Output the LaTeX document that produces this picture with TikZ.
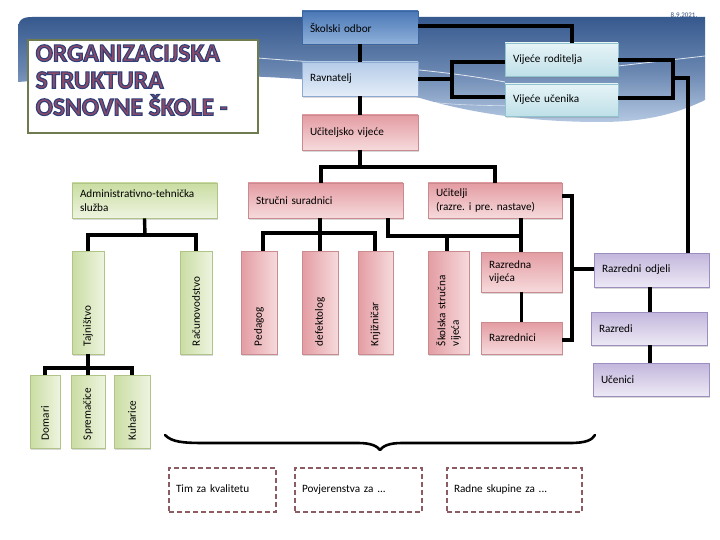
\documentclass[tikz,border=0pt]{standalone}
\usepackage{fontspec}
\setmainfont{Carlito}
\usetikzlibrary{shadows}
\frenchspacing
\definecolor{bannerTop}{HTML}{36598E}
\definecolor{bannerBot}{HTML}{B4C8E2}
\definecolor{odborTop}{HTML}{4A78B6}
\definecolor{odborBot}{HTML}{8FB0DA}
\definecolor{odborLine}{HTML}{3A65A0}
\definecolor{ravTop}{HTML}{B4CBE8}
\definecolor{ravBot}{HTML}{E4EDF8}
\definecolor{ravLine}{HTML}{8EAAD0}
\definecolor{vijTop}{HTML}{E6F4F7}
\definecolor{vijBot}{HTML}{BFE0E8}
\definecolor{vijLine}{HTML}{8FC3CF}
\definecolor{pinkA}{HTML}{E39CA2}
\definecolor{pinkB}{HTML}{F6DADC}
\definecolor{pinkLine}{HTML}{C98B90}
\definecolor{greenA}{HTML}{CADDA2}
\definecolor{greenB}{HTML}{EEF4E0}
\definecolor{greenLine}{HTML}{AFC486}
\definecolor{purpA}{HTML}{C2B6DC}
\definecolor{purpB}{HTML}{EDE9F5}
\definecolor{purpLine}{HTML}{9C8EBF}
\definecolor{titleLine}{HTML}{6E7B4F}
\definecolor{titleFill}{HTML}{8E4A67}
\definecolor{dashCol}{HTML}{8C5C62}
\definecolor{dateCol}{HTML}{2F4A7C}
\newcommand{\outlinedtext}[1]{\special{pdf:literal 2 Tr 1.1 w 0.18 0.25 0.48 RG}#1\special{pdf:literal 0 Tr}}
\begin{document}
\begin{tikzpicture}[x=1pt,y=-1pt,
  box/.style={draw, line width=0.6pt, inner xsep=8pt, inner ysep=0pt,
    align=left, font=\fontsize{11.2}{13.5}\selectfont,
    drop shadow={shadow xshift=1.2pt, shadow yshift=-1.6pt, opacity=0.3}},
  odbor/.style={box, draw=odborLine, top color=odborTop, bottom color=odborBot},
  rav/.style={box, draw=ravLine, top color=ravTop, bottom color=ravBot},
  vij/.style={box, draw=vijLine, top color=vijTop, bottom color=vijBot},
  pinkbox/.style={box, draw=pinkLine, top color=pinkA, bottom color=pinkB},
  greenbox/.style={box, draw=greenLine, top color=greenA, bottom color=greenB},
  purpbox/.style={box, draw=purpLine, top color=purpA, bottom color=purpB},
  vpink/.style={box, draw=pinkLine, left color=pinkA, right color=pinkB, rotate=90},
  vgreen/.style={box, draw=greenLine, left color=greenA, right color=greenB, rotate=90},
  dbox/.style={draw=dashCol, dashed, dash pattern=on 5pt off 3pt, line width=2pt,
    fill=white, inner xsep=7pt, inner ysep=0pt, align=left,
    text height=8pt, text depth=2.5pt,
    font=\fontsize{11.2}{13.5}\selectfont},
  conn/.style={draw=black, line width=3.4pt},
  titlefont/.style={font=\fontsize{25.5}{27}\selectfont\bfseries, align=left, inner sep=0pt, anchor=north west}
]
\useasboundingbox (0,0) rectangle (720,540);
\fill[white] (0,0) rectangle (720,540);
% banner
\shade[top color=bannerTop, bottom color=bannerBot, middle color=bannerTop!60!bannerBot]
  (18,30) .. controls (18,20) and (22,17) .. (32,17) -- (705,17) -- (705,100)
  .. controls (680,112) and (650,122) .. (600,122)
  .. controls (520,122) and (460,110) .. (420,98)
  .. controls (320,70) and (150,72) .. (18,82) -- cycle;
\draw[white, line width=0.8pt, opacity=0.8] (258,58) .. controls (330,64) and (420,66) .. (505,82);
\draw[white, line width=0.8pt, opacity=0.8] (618,66) -- (705,56);
\draw[white, line width=0.6pt, opacity=0.6] (418,100) .. controls (460,108) and (520,104) .. (560,108);
\node[font=\fontsize{7}{8}\selectfont, text=dateCol, inner sep=0pt] (date) at (684,15) {8.9.2021.};

% title
\node[draw=titleLine, line width=2.5pt, fill=white, minimum width=230, minimum height=93, inner sep=0pt] (tbox) at (143,86.5) {};
\node[titlefont, text=titleFill] (title) at (35.5,44.5) {\outlinedtext{ORGANIZACIJSKA}\\\outlinedtext{STRUKTURA}\\\outlinedtext{OSNOVNE ŠKOLE -}};

% top boxes
\node[odbor, minimum height=33, text width=100] (odbor) at (360,27.5) {Školski odbor};
\node[rav, minimum height=34, text width=100] (rav) at (360,79) {Ravnatelj};
\node[pinkbox, minimum height=35, text width=100] (uv) at (360,132.5) {Učiteljsko vijeće};
\node[vij, minimum height=33, text width=97] (vr) at (561.5,59.5) {Vijeće roditelja};
\node[vij, minimum height=32, text width=97] (vu) at (561.5,100) {Vijeće učenika};

% second level
\node[greenbox, minimum height=35, text width=129] (adm) at (144.5,200.5) {Administrativno-tehnička\\služba};
\node[pinkbox, minimum height=35, text width=139] (ss) at (325.5,200.5) {Stručni suradnici};
\node[pinkbox, minimum height=35, text width=118] (uc) at (495,200.5) {Učitelji\\(razre. i pre. nastave)};

% vertical boxes
\node[vgreen, minimum width=103, minimum height=32, text width=87] (taj) at (88,302.5) {Tajništvo};
\node[vgreen, minimum width=103, minimum height=32, text width=87] (rac) at (196,302.5) {Računovodstvo};
\node[vpink, minimum width=103, minimum height=36, text width=87] (ped) at (259,302.5) {Pedagog};
\node[vpink, minimum width=103, minimum height=36, text width=87] (def) at (320,302.5) {defektolog};
\node[vpink, minimum width=103, minimum height=35, text width=87] (knj) at (375.5,302.5) {Knjižničar};
\node[vpink, minimum width=103, minimum height=41, text width=87] (ssv) at (448.5,302.5) {Školska stručna\\vijeća};
\node[vgreen, minimum width=73, minimum height=30, text width=57] (dom) at (45,411.5) {Domari};
\node[vgreen, minimum width=73, minimum height=34, text width=57] (spr) at (88,411.5) {Spremačice};
\node[vgreen, minimum width=73, minimum height=36, text width=57] (kuh) at (132,411.5) {Kuharice};

% right side
\node[pinkbox, minimum height=40, text width=65] (rv) at (521.5,272) {Razredna\\vijeća};
\node[pinkbox, minimum height=32, text width=65] (rz) at (521.5,338) {Razrednici};
\node[purpbox, minimum height=34, text width=99] (ro) at (651.5,270) {Razredni odjeli};
\node[purpbox, minimum height=33, text width=100] (rd) at (649,328.5) {Razredi};
\node[purpbox, minimum height=33, text width=100] (ucn) at (651,379.5) {Učenici};

% dashed boxes
\node[dbox, minimum width=107, minimum height=44, text width=93] (tim) at (222.5,490) {Tim za kvalitetu};
\node[dbox, minimum width=127, minimum height=44, text width=113] (pov) at (358.5,490) {Povjerenstva za ...};
\node[dbox, minimum width=135, minimum height=44, text width=121] (rad) at (514.5,490) {Radne skupine za ...};

% connectors top
\draw[conn] (odbor.south) -- (rav.north);
\draw[conn] (rav.south) -- (uv.north);
\draw[conn] (odbor.east |- 0,26) -- (572,26) -- (572,0 |- vr.north);
\draw[conn] (rav.east |- 0,79) -- (452,79);
\draw[conn] (vr.west |- 0,62) -- (452,62) -- (452,97) -- (vu.west |- 0,97);
\draw[conn] (vr.east |- 0,60) -- (673,60) -- (673,98) -- (vu.east |- 0,98);
\draw[conn] (673,78) -- (688,78) -- (688,0 |- ro.north);
\draw[conn] (uv.south) -- (360,167);
\draw[conn] (321,0 |- ss.north) -- (321,167) -- (495,167) -- (495,0 |- uc.north);

% Admin
\draw[conn] (adm.south) -- (145,235);
\draw[conn] (88,0 |- taj.east) -- (88,235) -- (196,235) -- (196,0 |- rac.east);
% Strucni suradnici
\draw[conn] (320,0 |- ss.south) -- (320,233);
\draw[conn] (263,0 |- ped.east) -- (263,233) -- (375,233) -- (375,0 |- knj.east);
\draw[conn] (320,233) -- (320,0 |- def.east);
\draw[conn] (388,0 |- ss.south) -- (388,236) -- (521,236);
\draw[conn] (521,0 |- uc.south) -- (521,0 |- rv.north);
\draw[conn] (447,236) -- (447,0 |- ssv.east);
\draw[conn] (rv.south) -- (rz.north);
% Ucitelji right
\draw[conn] (uc.east |- 0,196) -- (572,196) -- (572,340) -- (rz.east |- 0,340);
\draw[conn] (572,269) -- (ro.west |- 0,269);
% purple
\draw[conn] (650,0 |- ro.south) -- (650,0 |- rd.north);
\draw[conn] (650,0 |- rd.south) -- (650,0 |- ucn.north);
% Tajnistvo children
\draw[conn] (taj.west) -- (88,368);
\draw[conn] (45,0 |- dom.east) -- (45,368) -- (132,368) -- (132,0 |- kuh.east);
\draw[conn] (88,368) -- (88,0 |- spr.east);

% brace
\coordinate (bl) at (165,435);
\coordinate (br) at (595,435);
\coordinate (btip) at (380,450);
\draw[line width=2.6pt, line cap=round, line join=round]
  (bl) .. controls (172,442) and (182,443) .. (205,443) -- (358,443)
  .. controls (371,443) and (377,446) .. (btip)
  .. controls (383,446) and (389,443) .. (402,443) -- (570,443)
  .. controls (586,443) and (592,440) .. (br);
\end{tikzpicture}
\end{document}
